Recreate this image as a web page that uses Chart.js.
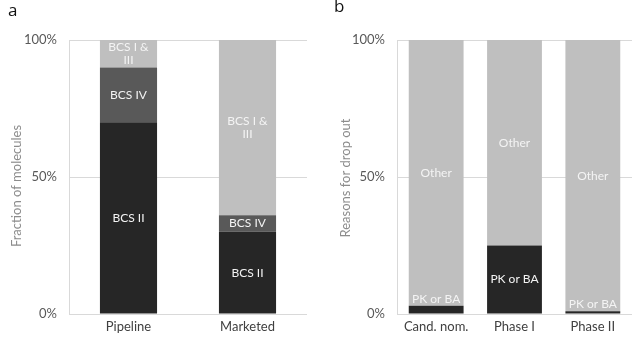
<!DOCTYPE html>
<html>
<head>
<meta charset="utf-8">
<script src="https://cdn.jsdelivr.net/npm/chart.js@4"></script>
<style>
  html, body { margin: 0; padding: 0; background: #fff; }
  #wrap { position: relative; width: 640px; height: 339px; overflow: hidden; }
  .panel { position: absolute; top: 0; width: 320px; height: 339px; }
  .letter { position: absolute; font-family: "Open Sans", sans-serif; font-size: 17px; color: #111; }
</style>
</head>
<body>
<div id="wrap">
  <div class="panel" style="left:0"><canvas id="chartA" width="320" height="339"></canvas></div>
  <div class="panel" style="left:320px"><canvas id="chartB" width="320" height="339"></canvas></div>
  <div class="letter" style="left:8px;top:-2px">a</div>
  <div class="letter" style="left:334px;top:-6px">b</div>
</div>
<script>
// panel a: BCS class of molecules
const classCats = ['Pipeline', 'Marketed'];
const bcsII = [70, 30];
const bcsIV = [20, 6];
const bcsIandIII = [10, 64];

// panel b: drop-out reasons per phase
const phaseCats = ['Cand. nom.', 'Phase I', 'Phase II'];
const pkOrBa = [3, 25, 1];
const otherReasons = [97, 75, 99];

const yTicks = [0, 50, 100];

const DARK = '#262626';
const MID = '#595959';
const LIGHT = '#bfbfbf';
const FONT = 'Lato, "Open Sans", sans-serif';

Chart.defaults.font.family = FONT;
Chart.defaults.color = '#595959';

// writes each segment's name on the bar; too-thin segments get it just above
const barText = {
  id: 'barText',
  afterDatasetsDraw(chart) {
    const ctx = chart.ctx;
    const lineH = 13;
    ctx.save();
    ctx.font = '12px ' + FONT;
    ctx.fillStyle = '#f4f4f4';
    ctx.textAlign = 'center';
    ctx.textBaseline = 'middle';
    chart.data.datasets.forEach((ds, i) => {
      const meta = chart.getDatasetMeta(i);
      const lines = ds.textLines;
      meta.data.forEach((bar) => {
        const p = bar.getProps(['x', 'y', 'base'], true);
        const h = p.base - p.y;
        let cy;
        if (h >= lines.length * lineH) {
          cy = (p.y + p.base) / 2;
        } else {
          cy = p.y - 7 - (lines.length - 1) * lineH / 2;
        }
        lines.forEach((t, k) => {
          ctx.fillText(t, p.x, cy + (k - (lines.length - 1) / 2) * lineH);
        });
      });
    });
    ctx.restore();
  }
};

// rotated y-axis title, placed by hand (opts: text, x, y)
const sideTitle = {
  id: 'sideTitle',
  afterDraw(chart, args, opts) {
    const ctx = chart.ctx;
    ctx.save();
    ctx.translate(opts.x, opts.y);
    ctx.rotate(-Math.PI / 2);
    ctx.font = '13px ' + FONT;
    ctx.fillStyle = '#8c8c8c';
    ctx.textAlign = 'center';
    ctx.textBaseline = 'middle';
    ctx.fillText(opts.text, 0, 0);
    ctx.restore();
  }
};

function yAxis(width) {
  return {
    stacked: true,
    min: 0,
    max: 100,
    afterBuildTicks: (s) => { s.ticks = yTicks.map(v => ({ value: v })); },
    afterFit: (s) => { s.width = width; },
    grid: { color: '#d9d9d9', drawTicks: false, lineWidth: 1 },
    border: { display: true, color: '#d9d9d9' },
    ticks: {
      padding: 12,
      font: { size: 13 },
      color: '#595959',
      callback: (v) => v + '%'
    }
  };
}

function xAxis() {
  return {
    stacked: true,
    grid: { display: false, drawTicks: false },
    border: { display: false },
    afterFit: (s) => { s.height = 25; },
    ticks: { padding: 5, font: { size: 13 }, color: '#404040' }
  };
}

function baseOptions(title, width, pad) {
  return {
    responsive: false,
    animation: false,
    layout: { padding: pad },
    plugins: {
      legend: { display: false },
      tooltip: { enabled: false },
      sideTitle: title
    },
    scales: { x: xAxis(), y: yAxis(width) }
  };
}

new Chart(document.getElementById('chartA'), {
  type: 'bar',
  data: {
    labels: classCats,
    datasets: [
      { label: 'BCS II', textLines: ['BCS II'], data: bcsII, backgroundColor: DARK },
      { label: 'BCS IV', textLines: ['BCS IV'], data: bcsIV, backgroundColor: MID },
      { label: 'BCS I & III', textLines: ['BCS I &', 'III'], data: bcsIandIII, backgroundColor: LIGHT }
    ].map(d => Object.assign(d, { barPercentage: 0.48, categoryPercentage: 1, borderWidth: 0 }))
  },
  options: baseOptions({ text: 'Fraction of molecules', x: 17, y: 186 }, 69, { left: 0, right: 13, top: 40, bottom: 0 }),
  plugins: [barText, sideTitle]
});

new Chart(document.getElementById('chartB'), {
  type: 'bar',
  data: {
    labels: phaseCats,
    datasets: [
      { label: 'PK or BA', textLines: ['PK or BA'], data: pkOrBa, backgroundColor: DARK },
      { label: 'Other', textLines: ['Other'], data: otherReasons, backgroundColor: LIGHT }
    ].map(d => Object.assign(d, { barPercentage: 0.70, categoryPercentage: 1, borderWidth: 0 }))
  },
  options: baseOptions({ text: 'Reasons for drop out', x: 26, y: 178 }, 77, { left: 0, right: 8, top: 40, bottom: 0 }),
  plugins: [barText, sideTitle]
});
</script>
</body>
</html>
